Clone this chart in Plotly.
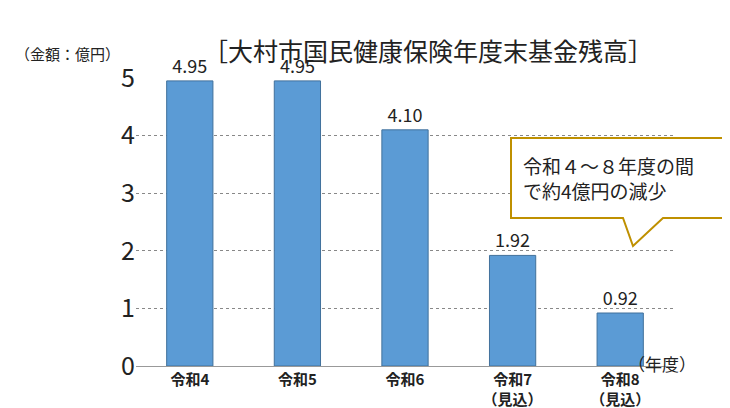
import plotly.graph_objects as go

categories = ["令和4", "令和5", "令和6", "令和7<br>（見込）", "令和8<br>（見込）"]
values = [4.95, 4.95, 4.10, 1.92, 0.92]
labels = ["4.95", "4.95", "4.10", "1.92", "0.92"]

L, R, T, B = 128, 64, 70, 50
W, H = 730, 408
pw, ph = W - L - R, H - T - B
def px(x): return (x - L) / pw
def py(y): return (H - B - y) / ph

fig = go.Figure(go.Bar(
    x=categories, y=values, text=labels, textposition="outside",
    textfont=dict(size=18, color="#222"),
    marker=dict(color="#5B9BD5", line=dict(color="#41719C", width=1)),
    width=0.43, cliponaxis=False))

path = (f"M {px(503)} {py(130)} L {px(722)} {py(130)} L {px(722)} {py(210)} "
        f"L {px(655)} {py(210)} L {px(625)} {py(238)} L {px(615)} {py(210)} "
        f"L {px(503)} {py(210)} Z")
fig.add_shape(type="path", path=path, xref="paper", yref="paper",
              line=dict(color="#BF9000", width=2), fillcolor="white")

fig.add_annotation(x=px(513), y=py(170), xref="paper", yref="paper",
                   text="令和４～８年度の間<br>で約4億円の減少", showarrow=False,
                   xanchor="left", yanchor="middle", align="left",
                   font=dict(size=19, color="#222"))
fig.add_annotation(x=px(420), y=py(22), xref="paper", yref="paper",
                   text="［大村市国民健康保険年度末基金残高］", showarrow=False,
                   font=dict(size=25, color="#222"))
fig.add_annotation(x=px(5), y=py(33), xref="paper", yref="paper",
                   text="（金額：億円）", showarrow=False, xanchor="left",
                   font=dict(size=15, color="#222"))
fig.add_annotation(x=px(690), y=py(370), xref="paper", yref="paper",
                   text="（年度）", showarrow=False,
                   font=dict(size=17, color="#222"))

fig.update_layout(
    width=W, height=H, margin=dict(l=L, r=R, t=T, b=B, autoexpand=False),
    plot_bgcolor="white", paper_bgcolor="white", showlegend=False,
    font=dict(family="Noto Sans CJK JP", color="#222"),
    xaxis=dict(tickfont=dict(size=15, color="#222"), ticks="", showline=True,
               linecolor="#999", tickprefix="<b>", ticksuffix="</b>",
               automargin=False),
    yaxis=dict(range=[0, 5], dtick=1, tickfont=dict(size=25), showgrid=True,
               gridcolor="#888", griddash="dot", zeroline=False, ticklen=45,
               tickcolor="white", automargin=False),
)
fig.write_html("out.html")
